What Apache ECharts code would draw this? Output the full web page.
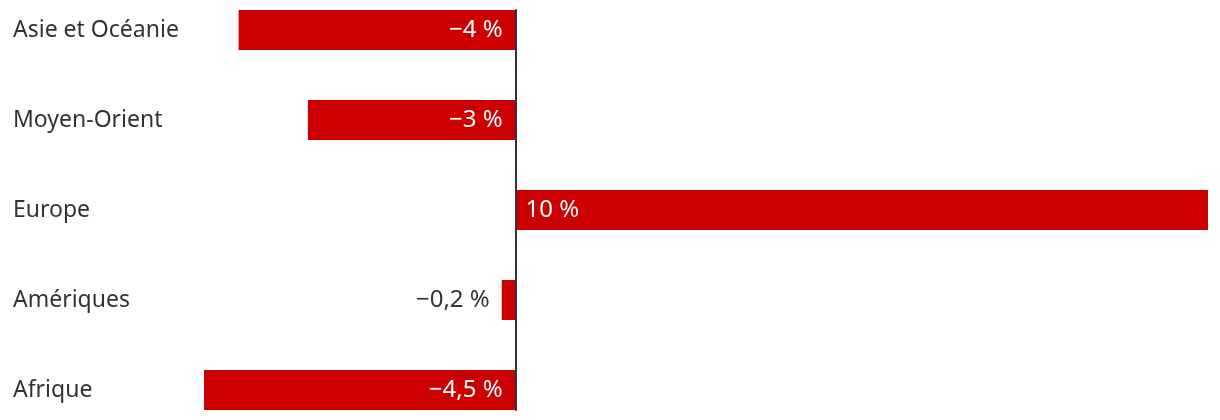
<!DOCTYPE html>
<html>
<head>
<meta charset="utf-8">
<script src="https://cdn.jsdelivr.net/npm/echarts@6/dist/echarts.min.js"></script>
<style>
  html, body { margin: 0; padding: 0; background: #fff; }
  #chart { width: 1220px; height: 420px; }
</style>
</head>
<body>
<div id="chart"></div>
<script>
var regions = ['Asie et Océanie', 'Moyen-Orient', 'Europe', 'Amériques', 'Afrique'];
var changes = [-4, -3, 10, -0.2, -4.5];

var red = '#cc0000';
var ink = '#333333';
var font = '"Noto Sans", sans-serif';

function fmt(v) {
  return (v < 0 ? '\u2212' : '') + String(Math.abs(v)).replace('.', ',') + ' %';
}

var barData = changes.map(function (v) {
  var small = Math.abs(v) < 1;
  var pos = small ? 'left' : (v < 0 ? 'insideRight' : 'insideLeft');
  return {
    value: v,
    label: {
      position: pos,
      distance: small ? 12 : (v < 0 ? 13 : 10),
      color: small ? ink : '#fff'
    }
  };
});

var myChart = echarts.init(document.getElementById('chart'));
var option = {
  animation: false,
  grid: [
    // band of 90px: the first and last bands run past the canvas edge
    { left: 204, width: 1004, top: -15, height: 450, outerBoundsMode: 'none' },
    { left: 204, width: 1004, top: 10, height: 400, outerBoundsMode: 'none' }
  ],
  xAxis: [
    { gridIndex: 0, type: 'value', min: -4.5, max: 10, show: false },
    { gridIndex: 1, type: 'value', min: -4.5, max: 10, show: false }
  ],
  yAxis: [{
    gridIndex: 0,
    type: 'category',
    inverse: true,
    data: regions,
    axisLine: { show: false },
    axisTick: { show: false },
    axisLabel: {
      align: 'left',
      margin: 191,
      color: ink,
      fontSize: 23,
      fontFamily: font,
      padding: [5, 0, 0, 0]
    }
  }, {
    gridIndex: 1,
    type: 'value',
    min: 0,
    max: 1,
    z: 10,
    axisLine: { show: true, onZero: true, lineStyle: { color: ink, width: 2 } },
    axisTick: { show: false },
    axisLabel: { show: false },
    splitLine: { show: false }
  }],
  series: [{
    type: 'bar',
    xAxisIndex: 0,
    yAxisIndex: 0,
    barWidth: 40,
    itemStyle: { color: red },
    label: {
      show: true,
      fontSize: 24,
      fontFamily: font,
      padding: [5, 0, 0, 0],
      formatter: function (p) { return fmt(p.value); }
    },
    data: barData
  }]
};
myChart.setOption(option);
</script>
</body>
</html>
